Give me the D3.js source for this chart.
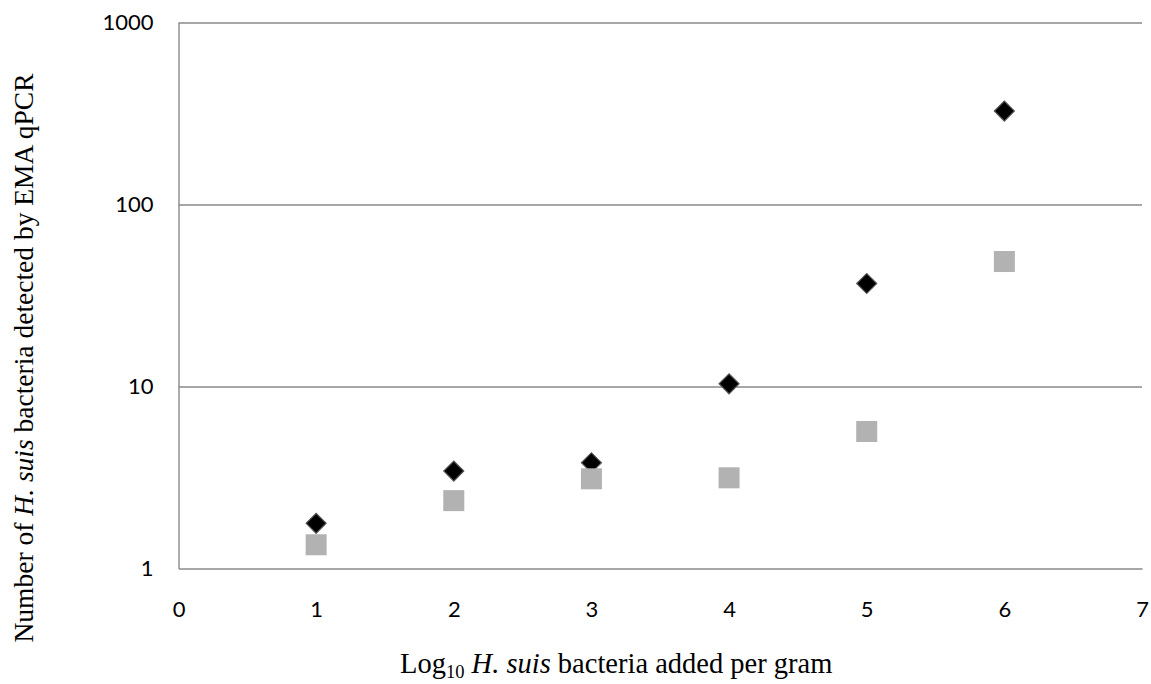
<!DOCTYPE html>
<html>
<head>
<meta charset="utf-8">
<script src="https://cdn.jsdelivr.net/npm/d3@7"></script>
<style>
  html, body { margin: 0; padding: 0; background: #fff; }
  svg { display: block; }
</style>
</head>
<body>
<svg id="chart" width="1151" height="684"></svg>
<script>
// Data
const xValues = [1, 2, 3, 4, 5, 6];
const seriesDiamond = [1.77, 3.43, 3.81, 10.35, 36.8, 326];
const seriesSquare = [1.35, 2.36, 3.11, 3.15, 5.66, 48.6];
const xTicks = [0, 1, 2, 3, 4, 5, 6, 7];
const yTicks = [1, 10, 100, 1000];

(function () {
const svg = d3.select("#chart");
const pLeft = 178.5, pRight = 1142, pTop = 22.5, pBottom = 568.5;

const x = d3.scaleLinear().domain([0, 7]).range([pLeft, pRight]);
const y = d3.scaleLog().domain([1, 1000]).range([pBottom, pTop]);

const gridColor = "#8a8a8a";
const tickFont = "Lato, 'Open Sans', sans-serif";

// Gridlines
const grid = svg.append("g")
  .attr("transform", `translate(${pLeft},0)`)
  .call(d3.axisLeft(y).tickValues(yTicks.filter(v => v > 1)).tickSize(-(pRight - pLeft)).tickFormat(""));
grid.select(".domain").remove();
grid.selectAll(".tick line").attr("stroke", gridColor).attr("stroke-width", 1.4);

// Y axis
const yAxis = svg.append("g")
  .attr("transform", `translate(${pLeft},0)`)
  .call(d3.axisLeft(y).tickValues(yTicks).tickSize(0).tickPadding(25).tickFormat(d3.format("d")));
yAxis.select(".domain").attr("stroke", gridColor).attr("stroke-width", 1.4);
yAxis.selectAll("text").attr("font-family", tickFont).attr("font-size", 22).attr("fill", "#000");

// X axis
const xAxis = svg.append("g")
  .attr("transform", `translate(0,${pBottom})`)
  .call(d3.axisBottom(x).tickValues(xTicks).tickSize(0).tickPadding(33).tickFormat(d3.format("d")));
xAxis.select(".domain").attr("stroke", gridColor).attr("stroke-width", 1.6);
xAxis.selectAll("text").attr("font-family", tickFont).attr("font-size", 22).attr("fill", "#000");

// Diamonds
const dsym = d3.symbol().type(d3.symbolSquare).size(200);
svg.append("g").selectAll("path")
  .data(xValues.map((v, i) => [v, seriesDiamond[i]]))
  .join("path")
  .attr("d", dsym)
  .attr("transform", d => `translate(${x(d[0])},${y(d[1])}) rotate(45)`)
  .attr("fill", "#000")
  .attr("stroke", "#555")
  .attr("stroke-width", 1.2);

// Squares
svg.append("g").selectAll("rect")
  .data(xValues.map((v, i) => [v, seriesSquare[i]]))
  .join("rect")
  .attr("x", d => x(d[0]) - 10.5)
  .attr("y", d => y(d[1]) - 10.5)
  .attr("width", 21)
  .attr("height", 21)
  .attr("fill", "#b2b2b2");

// Axis titles
const serif = "'Liberation Serif', 'Times New Roman', serif";
const xt = svg.append("text")
  .attr("x", 400)
  .attr("y", 673)
  .attr("text-anchor", "start")
  .attr("font-family", serif)
  .attr("font-size", 28.5)
  .attr("fill", "#000");
xt.append("tspan").text("Log");
xt.append("tspan").attr("font-size", 18.5).attr("dy", 5).text("10");
xt.append("tspan").attr("dy", -5).text(" ");
xt.append("tspan").attr("font-style", "italic").text("H. suis");
xt.append("tspan").text(" bacteria added per gram");

const yt = svg.append("text")
  .attr("transform", `translate(33,358) rotate(-90)`)
  .attr("text-anchor", "middle")
  .attr("font-family", serif)
  .attr("font-size", 27.5)
  .attr("fill", "#000");
yt.append("tspan").text("Number of ");
yt.append("tspan").attr("font-style", "italic").text("H. suis");
yt.append("tspan").text(" bacteria detected by EMA qPCR");
})();
</script>
</body>
</html>
